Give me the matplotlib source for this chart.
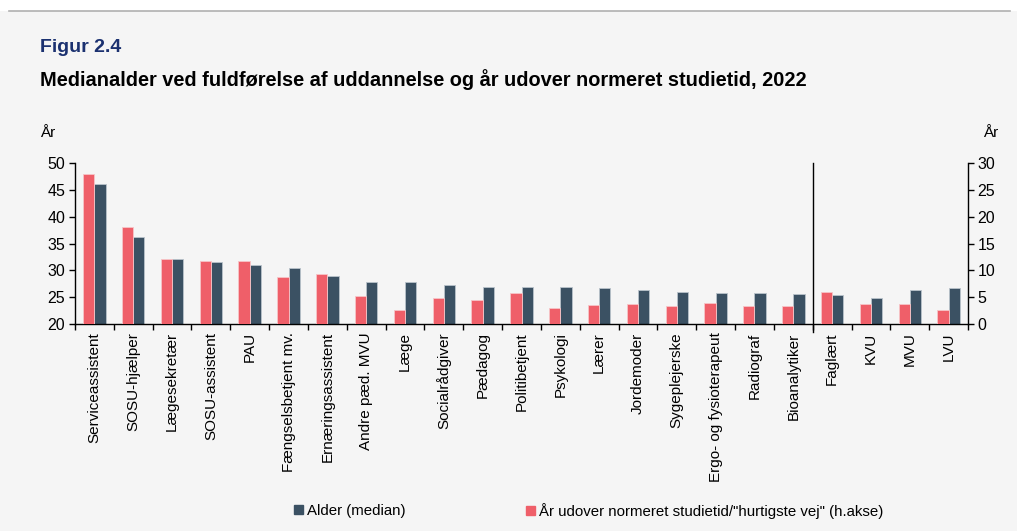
import matplotlib
matplotlib.use("Agg")
import matplotlib.pyplot as plt
import numpy as np
from matplotlib.patches import Patch, Rectangle
from matplotlib.lines import Line2D

plt.rcParams['font.family'] = ['Liberation Sans', 'DejaVu Sans']

categories = ["Serviceassistent", "SOSU-hjælper", "Lægesekretær", "SOSU-assistent", "PAU",
              "Fængselsbetjent mv.", "Ernæringsassistent", "Andre pæd. MVU", "Læge",
              "Socialrådgiver", "Pædagog", "Politibetjent", "Psykologi", "Lærer",
              "Jordemoder", "Sygeplejerske", "Ergo- og fysioterapeut", "Radiograf",
              "Bioanalytiker", "Faglært", "KVU", "MVU", "LVU"]
alder = [46.1, 36.3, 32.1, 31.6, 31.0, 30.5, 29.0, 27.9, 27.9, 27.3, 26.9, 26.9, 26.9,
         26.7, 26.3, 26.0, 25.8, 25.8, 25.5, 25.4, 24.8, 26.3, 26.8]
aar_udover = [27.9, 18.1, 12.1, 11.8, 11.7, 8.7, 9.4, 5.3, 2.6, 4.8, 4.4, 5.8, 2.9,
              3.6, 3.8, 3.4, 3.9, 3.3, 3.3, 5.9, 3.7, 3.8, 2.6]
left_ticks = [20, 25, 30, 35, 40, 45, 50]
right_ticks = [0, 5, 10, 15, 20, 25, 30]

RED = "#ef5f69"
DARK = "#3b5163"
BG = "#f5f5f5"

W, H = 1017, 531
fig = plt.figure(figsize=(W / 100, H / 100), dpi=100)
fig.patch.set_facecolor(BG)

# white strip and grey line at top
fig.add_artist(Rectangle((0, 1 - 11 / H), 1, 11 / H, transform=fig.transFigure,
                         facecolor="white", edgecolor="none"))
fig.add_artist(Line2D([9 / W, 1010 / W], [1 - 11 / H, 1 - 11 / H], transform=fig.transFigure,
                      color="#b0b0b0", lw=1.2))

x0, x1, yt, yb = 75, 968, 163, 324
ax = fig.add_axes([x0 / W, 1 - yb / H, (x1 - x0) / W, (yb - yt) / H])
ax.set_facecolor("none")
ax2 = ax.twinx()

x = np.arange(len(categories))
bw = 0.29
ax2.bar(x - bw / 2, aar_udover, width=bw, color=RED, edgecolor="#f6c5c8", linewidth=0.6)
ax.bar(x + bw / 2, [a - 20 for a in alder], bottom=20, width=bw, color=DARK,
       edgecolor="#b9c3cb", linewidth=0.6)

ax.set_xlim(-0.5, len(categories) - 0.5)
ax.set_ylim(20, 50)
ax2.set_ylim(0, 30)
ax.set_yticks(left_ticks)
ax2.set_yticks(right_ticks)

ax.set_xticks(np.arange(len(categories) + 1) - 0.5)
ax.set_xticklabels([])
ax.set_xticks(x, minor=True)
ax.set_xticklabels(categories, minor=True, rotation=90, va="top", ha="center", fontsize=11)
ax.tick_params(axis="x", which="minor", length=0, pad=6)
ax.tick_params(axis="x", which="major", length=4, direction="out", width=1)
ax.tick_params(axis="y", length=4, direction="out", labelsize=11.5, width=1, pad=3)
ax2.tick_params(axis="y", length=4, direction="out", labelsize=11.5, width=1, pad=3)

for a in (ax, ax2):
    a.spines["top"].set_visible(False)
ax.spines["right"].set_visible(False)
ax2.spines["left"].set_visible(False)
ax2.spines["bottom"].set_visible(False)
for s in ("left", "bottom"):
    ax.spines[s].set_linewidth(1)
ax2.spines["right"].set_linewidth(1)

ax.plot([18.5, 18.5], [-0.05, 1.0], transform=ax.get_xaxis_transform(), color="black",
        lw=1, clip_on=False)

fig.text(40 / W, 1 - 47 / H, "Figur 2.4", color="#1b3170", fontsize=14, fontweight="bold",
         va="center", ha="left")
fig.text(40 / W, 1 - 80 / H,
         "Medianalder ved fuldførelse af uddannelse og år udover normeret studietid, 2022",
         color="black", fontsize=14.4, fontweight="bold", va="center", ha="left")
fig.text(40 / W, 1 - 133 / H, "År", fontsize=11, va="center", ha="left")
fig.text(983 / W, 1 - 133 / H, "År", fontsize=11, va="center", ha="left")

leg_kw = dict(frameon=False, fontsize=10.8, handlelength=0.6, handleheight=0.6,
              handletextpad=0.25, borderpad=0, borderaxespad=0, loc="center left")
fig.legend(handles=[Patch(color=DARK, label="Alder (median)")],
           bbox_to_anchor=(294 / W, 1 - 511 / H), **leg_kw)
fig.legend(handles=[Patch(color=RED, label='År udover normeret studietid/"hurtigste vej" (h.akse)')],
           bbox_to_anchor=(526 / W, 1 - 511 / H), **leg_kw)

fig.savefig("out.png", dpi=100, facecolor=BG)
